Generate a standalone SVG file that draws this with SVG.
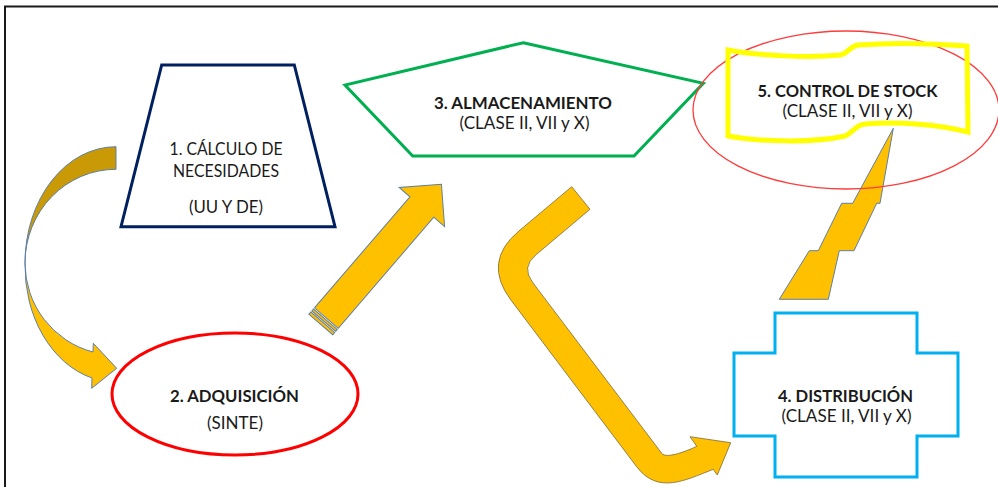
<svg xmlns="http://www.w3.org/2000/svg" width="998" height="487" viewBox="0 0 998 487">
<style>
.t{font-family:Lato,"Open Sans","Liberation Sans",sans-serif;fill:#1a1a1a;text-anchor:middle;font-size:17px}
.b{font-weight:bold}
.arw{fill:#FFC000;stroke:#5E7FA6;stroke-width:1}
</style>
<rect x="0" y="0" width="998" height="487" fill="#fff"/>
<path d="M5,487 V6.5 H998" fill="none" stroke="#1a1a1a" stroke-width="2"/>
<g id="connectors">
  <g id="curved-arrow">
    <path d="M116,146.7 A91,116.3 0 0 0 25,263 A91,93.7 0 0 1 116,169.3 Z" fill="#C99A06" stroke="#5E7FA6" stroke-width="1"/>
    <path d="M25,263 A91,116 0 0 0 92,378 L91.7,388.3 L116.7,368.3 L93.3,343.3 L93,352 A91,92 0 0 1 25,263 Z" class="arw"/>
  </g>
  <g id="straight-arrow" transform="translate(320.8,324.5) rotate(-49.3)">
    <rect x="0" y="-15.7" width="3" height="31.4" class="arw"/>
    <rect x="4.5" y="-15.7" width="2.5" height="31.4" class="arw"/>
    <path d="M8.5,-15.7 L155,-15.7 L155,-30 L185,0 L155,30 L155,15.7 L8.5,15.7 Z" class="arw"/>
  </g>
  <path id="bent-arrow" d="M571.7,186.7 L518.9,231 Q482.1,261.9 511,300.2 L636.7,466.7 C657.8,494.6 684.9,480.5 713.2,469.3 L717.3,475 L730.7,442.7 L690,436.7 L696.8,446.3 C689.6,449.8 666.5,459.7 661.7,453.3 L532.6,282.4 Q521.1,267.2 535.7,255 L590,209.3 Z" fill="#FFC000" stroke="#7a6a3a" stroke-width="0.8"/>
  <path id="bolt" d="M779.3,299.3 L809.3,250.7 L818.3,250.7 L841.7,203.3 L852.7,203.3 L893.3,128.3 L880,203.3 L876.7,203.3 L854,250.7 L839.3,250.7 L828.3,299.3 Z" class="arw"/>
</g>
<g id="node1">
  <polygon points="161.7,65 294.3,65 335,226.7 121,226.7" fill="none" stroke="#002060" stroke-width="3"/>
  <text class="t" x="226" y="154.5" textLength="113" lengthAdjust="spacingAndGlyphs">1. CÁLCULO DE</text>
  <text class="t" x="226" y="176.5" textLength="106" lengthAdjust="spacingAndGlyphs">NECESIDADES</text>
  <text class="t" x="226" y="212.5" textLength="74" lengthAdjust="spacingAndGlyphs">(UU Y DE)</text>
</g>
<g id="node2">
  <ellipse cx="235" cy="394" rx="123" ry="61" fill="none" stroke="#FF0000" stroke-width="3"/>
  <text class="t b" x="234.5" y="402" textLength="129" lengthAdjust="spacingAndGlyphs">2. ADQUISICIÓN</text>
  <text class="t" x="235" y="429" textLength="56" lengthAdjust="spacingAndGlyphs">(SINTE)</text>
</g>
<g id="node3">
  <polygon points="523.3,42.7 703.3,83.3 634,156 412.7,156 345,85" fill="none" stroke="#00B050" stroke-width="3"/>
  <text class="t b" x="523" y="109" textLength="178" lengthAdjust="spacingAndGlyphs">3. ALMACENAMIENTO</text>
  <text class="t" x="524.5" y="129" textLength="130" lengthAdjust="spacingAndGlyphs">(CLASE II, VII y X)</text>
</g>
<g id="node4">
  <polygon points="775,313 917,313 917,353 958,353 958,436 917,436 917,477 775,477 775,436 734,436 734,353 775,353" fill="none" stroke="#00B0F0" stroke-width="3"/>
  <text class="t b" x="845.5" y="401.5" textLength="135" lengthAdjust="spacingAndGlyphs">4. DISTRIBUCIÓN</text>
  <text class="t" x="846.5" y="422" textLength="130" lengthAdjust="spacingAndGlyphs">(CLASE II, VII y X)</text>
</g>
<g id="node5">
  <ellipse cx="846" cy="110" rx="153" ry="79" fill="none" stroke="#FF3B3B" stroke-width="1.3"/>
  <path d="M728,50 C760,56 810,58 840,55 C848,54 848,47 858,45 C900,42 940,44 967,46 L968,132 C940,125 900,121 865,124 C855,125 853,133 845,136 C815,143 760,142 728,136 Z" fill="none" stroke="#FFFF00" stroke-width="5"/>
  <text class="t b" x="847.5" y="97" textLength="180" lengthAdjust="spacingAndGlyphs">5. CONTROL DE STOCK</text>
  <text class="t" x="847.5" y="117" textLength="130" lengthAdjust="spacingAndGlyphs">(CLASE II, VII y X)</text>
</g>
</svg>
